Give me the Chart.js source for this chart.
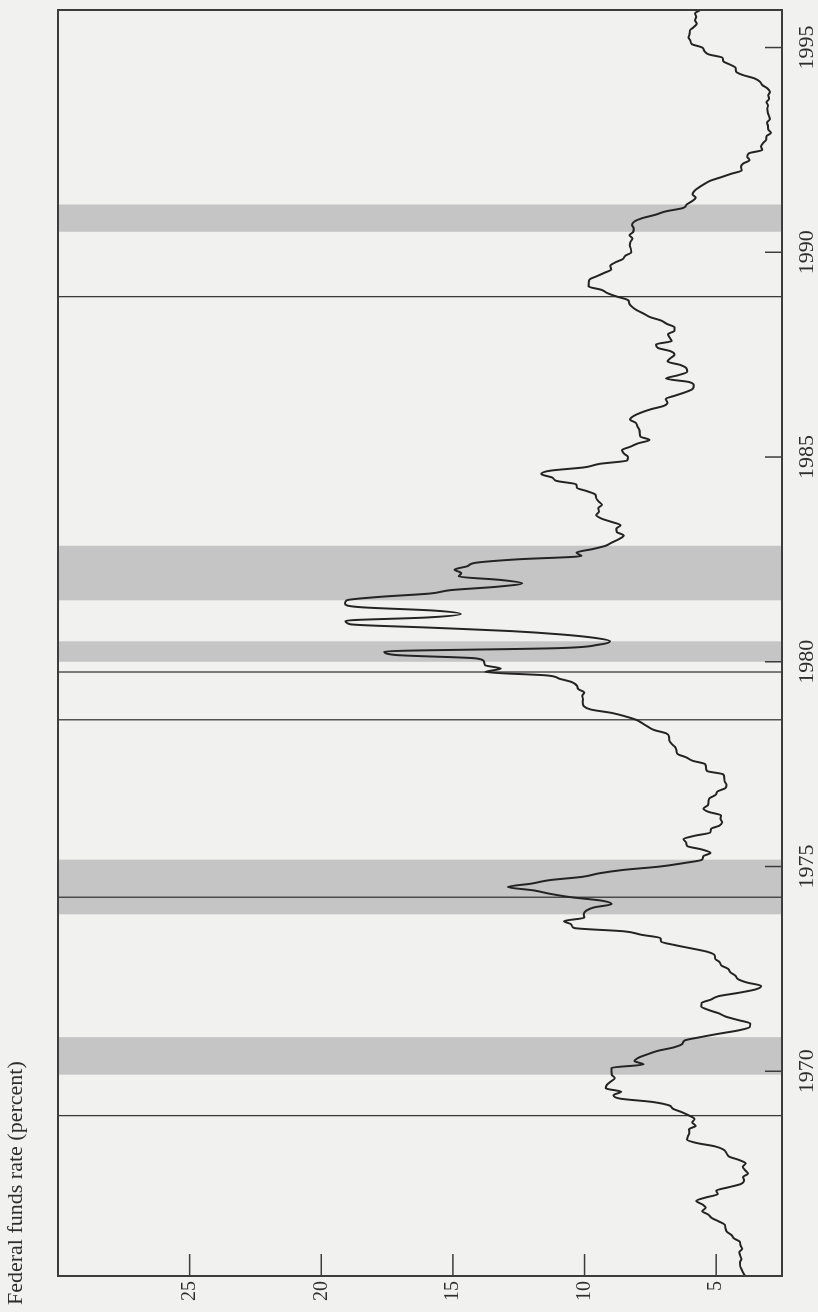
<!DOCTYPE html>
<html><head><meta charset="utf-8">
<script src="https://cdn.jsdelivr.net/npm/chart.js@4.4.1/dist/chart.umd.min.js"></script>
<style>
html,body{margin:0;padding:0;background:#f1f1ef;overflow:hidden;width:818px;height:1312px;}
#wrap{position:absolute;left:0;top:0;width:1312px;height:818px;transform-origin:0 0;transform:translate(0,1312px) rotate(-90deg);}
canvas{display:block;}
</style></head><body>
<div id="wrap"><canvas id="c" width="1312" height="818"></canvas></div>
<script>
const titleText = 'Federal funds rate (percent)';
const startYear = 1965;
// monthly effective federal funds rate, Jan 1965 - Dec 1995
const fedFunds = [
 3.90,3.98,4.04,4.09,4.10,4.04,4.09,4.12,4.01,4.08,4.10,4.32,
 4.42,4.60,4.65,4.67,4.90,5.17,5.30,5.53,5.40,5.53,5.76,5.40,
 4.94,5.00,4.53,4.05,3.94,3.98,3.79,3.90,3.99,3.88,4.13,4.51,
 4.61,4.71,5.05,5.76,6.11,6.07,6.02,6.03,5.78,5.91,5.82,6.02,
 6.30,6.64,6.79,7.41,8.67,8.90,8.61,9.19,9.15,9.00,8.85,8.97,
 8.98,8.98,7.76,8.10,7.94,7.60,7.21,6.61,6.29,6.20,5.60,4.90,
 4.14,3.72,3.71,4.16,4.63,4.91,5.31,5.57,5.55,5.20,4.91,4.14,
 3.50,3.29,3.83,4.17,4.27,4.46,4.55,4.80,4.87,5.04,5.06,5.33,
 5.94,6.58,7.09,7.12,7.84,8.49,10.40,10.50,10.78,10.01,10.03,9.95,
 9.65,8.97,9.35,10.51,11.31,11.93,12.92,12.01,11.34,10.06,9.45,8.53,
 7.13,6.24,5.54,5.49,5.22,5.55,6.10,6.14,6.24,5.82,5.22,5.20,
 4.87,4.77,4.84,4.82,5.29,5.48,5.31,5.29,5.25,5.02,4.95,4.65,
 4.61,4.68,4.69,4.73,5.35,5.39,5.42,5.90,6.14,6.47,6.51,6.56,
 6.70,6.78,6.79,6.89,7.36,7.60,7.81,8.04,8.45,8.96,9.76,10.03,
 10.07,10.06,10.09,10.01,10.24,10.29,10.47,10.94,11.43,13.77,13.18,13.78,
 13.82,14.13,17.19,17.61,10.98,9.47,9.03,9.61,10.87,12.81,15.85,18.90,
 19.08,15.93,14.70,15.72,18.52,19.10,19.04,17.82,15.87,15.08,13.31,12.37,
 13.22,14.78,14.68,14.94,14.45,14.15,12.59,10.12,10.31,9.71,9.20,8.95,
 8.68,8.51,8.77,8.80,8.63,8.98,9.37,9.56,9.45,9.48,9.34,9.47,
 9.56,9.59,9.91,10.29,10.32,11.06,11.23,11.64,11.30,9.99,9.43,8.38,
 8.35,8.50,8.58,8.27,7.97,7.53,7.88,7.90,7.92,7.99,8.05,8.27,
 8.14,7.86,7.48,6.99,6.85,6.92,6.56,6.17,5.89,5.85,6.04,6.91,
 6.43,6.10,6.13,6.37,6.85,6.73,6.58,6.73,7.22,7.29,6.69,6.77,
 6.83,6.58,6.58,6.87,7.09,7.51,7.75,8.01,8.19,8.30,8.35,8.76,
 9.12,9.36,9.85,9.84,9.81,9.53,9.24,8.99,9.02,8.84,8.55,8.45,
 8.23,8.24,8.28,8.26,8.18,8.29,8.15,8.13,8.20,8.11,7.81,7.31,
 6.91,6.25,6.12,5.91,5.78,5.90,5.82,5.66,5.45,5.21,4.81,4.43,
 4.03,4.06,3.98,3.73,3.82,3.76,3.25,3.30,3.22,3.10,3.09,2.92,
 3.02,3.03,3.07,2.96,3.00,3.04,3.06,3.03,3.09,2.99,3.02,2.96,
 3.05,3.25,3.34,3.56,4.01,4.25,4.26,4.47,4.73,4.76,5.29,5.45,
 5.53,5.92,5.98,6.05,6.01,6.00,5.85,5.74,5.80,5.76,5.80,5.60
];
const yearTicks = [1970, 1975, 1980, 1985, 1990, 1995];
const rateTicks = [5, 10, 15, 20, 25];
// NBER recessions (peak month -> trough month), as decimal years
const recessionStart = [1969 + 11/12, 1973 + 10/12, 1980 + 0/12, 1981 + 6/12, 1990 + 6/12];
const recessionEnd   = [1970 + 10/12, 1975 + 2/12, 1980 + 6/12, 1982 + 10/12, 1991 + 2/12];
// Romer dates: Dec 1968, Apr 1974, Aug 1978, Oct 1979, Dec 1988
const romerDates = [1968 + 11/12, 1974 + 3/12, 1978 + 7/12, 1979 + 9/12, 1988 + 11/12];
const axisMin = { x: 1965, y: 2.5 };
const axisMax = { x: 1995 + 11/12, y: 30 };

const points = fedFunds.map((v, i) => ({ x: startYear + i / 12, y: v }));
const serif = "'Liberation Serif', 'DejaVu Serif', serif";
const ink = '#2e2e2e';

const decor = {
  id: 'decor',
  beforeDatasetsDraw(chart) {
    const { ctx, chartArea: a, scales: { x } } = chart;
    ctx.save();
    ctx.fillStyle = '#c5c5c5';
    recessionStart.forEach((s, i) => {
      const x1 = x.getPixelForValue(s), x2 = x.getPixelForValue(recessionEnd[i]);
      ctx.fillRect(x1, a.top, x2 - x1, a.bottom - a.top);
    });
    ctx.strokeStyle = '#3a3a3a';
    ctx.lineWidth = 1.3;
    romerDates.forEach(d => {
      const px = x.getPixelForValue(d);
      ctx.beginPath(); ctx.moveTo(px, a.top); ctx.lineTo(px, a.bottom); ctx.stroke();
    });
    ctx.restore();
  },
  afterDatasetsDraw(chart) {
    const { ctx, chartArea: a, scales: { x, y } } = chart;
    ctx.save();
    ctx.strokeStyle = '#3c3c3c';
    ctx.lineWidth = 2;
    ctx.strokeRect(a.left, a.top, a.right - a.left, a.bottom - a.top);
    ctx.lineWidth = 1.5;
    yearTicks.forEach(t => {
      const px = x.getPixelForValue(t);
      ctx.beginPath(); ctx.moveTo(px, a.bottom); ctx.lineTo(px, a.bottom - 17); ctx.stroke();
    });
    rateTicks.forEach(v => {
      const py = y.getPixelForValue(v);
      ctx.beginPath(); ctx.moveTo(a.left, py); ctx.lineTo(a.left + 22, py); ctx.stroke();
    });
    ctx.restore();
  }
};

new Chart(document.getElementById('c'), {
  type: 'line',
  data: { datasets: [{
    data: points, borderColor: '#232323', borderWidth: 2, pointRadius: 0,
    cubicInterpolationMode: 'monotone', tension: 0.3, fill: false
  }]},
  options: {
    responsive: false, animation: false, devicePixelRatio: 1,
    layout: { padding: { left: 7, right: 10, top: 0, bottom: 0 } },
    plugins: {
      legend: { display: false }, tooltip: { enabled: false },
      title: { display: true, text: titleText, align: 'start', color: ink,
        font: { family: serif, size: 22, weight: 'normal' },
        padding: { top: 3, bottom: 28.6 } }
    },
    scales: {
      x: { type: 'linear', min: axisMin.x, max: axisMax.x,
        grid: { display: false, drawTicks: false }, border: { display: false },
        afterBuildTicks: s => { s.ticks = yearTicks.map(v => ({ value: v })); },
        afterFit: s => { s.height = 36; },
        ticks: { padding: 12, color: ink, autoSkip: false, maxRotation: 0, minRotation: 0,
          font: { family: serif, size: 22 }, callback: v => String(v) } },
      y: { type: 'linear', min: axisMin.y, max: axisMax.y,
        grid: { display: false, drawTicks: false }, border: { display: false },
        afterBuildTicks: s => { s.ticks = rateTicks.map(v => ({ value: v })); },
        afterFit: s => { s.width = 29; },
        ticks: { padding: 5, color: ink, autoSkip: false,
          font: { family: serif, size: 20 }, callback: v => String(v) } }
    }
  },
  plugins: [decor]
});
</script>
</body></html>
